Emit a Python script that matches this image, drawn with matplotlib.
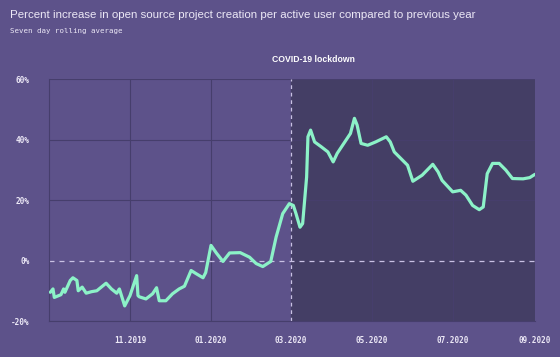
import matplotlib.pyplot as plt
import pandas as pd

# cores
bg = '#5d528a'
shade = '#443e65'
mint = '#8cf2c8'
txt = '#ece8f6'
grid_dark = '#463e6c'

# dados
dates = ['2019-09-02', '2019-09-04', '2019-09-05', '2019-09-10', '2019-09-12',
         '2019-09-13', '2019-09-17', '2019-09-19', '2019-09-22', '2019-09-23',
         '2019-09-26', '2019-09-29', '2019-10-03', '2019-10-07', '2019-10-14',
         '2019-10-18', '2019-10-22', '2019-10-24', '2019-10-28', '2019-11-01',
         '2019-11-06', '2019-11-07', '2019-11-08', '2019-11-13', '2019-11-18',
         '2019-11-21', '2019-11-23', '2019-11-28', '2019-12-03', '2019-12-08',
         '2019-12-12', '2019-12-17', '2019-12-21', '2019-12-26', '2019-12-28',
         '2020-01-01', '2020-01-05', '2020-01-10', '2020-01-15', '2020-01-23',
         '2020-01-30', '2020-02-04', '2020-02-09', '2020-02-15', '2020-02-19',
         '2020-02-24', '2020-02-29', '2020-03-03', '2020-03-05', '2020-03-08',
         '2020-03-10', '2020-03-13', '2020-03-14', '2020-03-16', '2020-03-19',
         '2020-03-24', '2020-03-29', '2020-04-02', '2020-04-05', '2020-04-10',
         '2020-04-15', '2020-04-18', '2020-04-20', '2020-04-23', '2020-04-28',
         '2020-05-04', '2020-05-12', '2020-05-15', '2020-05-18', '2020-05-23',
         '2020-05-28', '2020-06-01', '2020-06-08', '2020-06-16', '2020-06-20',
         '2020-06-23', '2020-07-01', '2020-07-07', '2020-07-11', '2020-07-16',
         '2020-07-21', '2020-07-24', '2020-07-27', '2020-07-31', '2020-08-05',
         '2020-08-10', '2020-08-15', '2020-08-23', '2020-08-28', '2020-09-01']
values = [-10.5, -9.4, -12.2, -11.3, -9.4,
          -10.5, -6.6, -5.7, -6.6, -10.0,
          -8.8, -10.8, -10.3, -10.0, -7.5,
          -9.4, -10.8, -9.4, -15.0, -11.6,
          -5.0, -11.6, -12.0, -12.7, -11.0,
          -9.0, -13.3, -13.3, -11.0, -9.4,
          -8.5, -3.3, -4.4, -5.7, -4.0,
          5.0, 2.5, -0.3, 2.5, 2.6,
          1.1, -1.0, -2.0, -0.3, 7.7,
          15.5, 18.8, 18.2, 15.5, 11.0,
          12.2, 27.6, 40.9, 43.1, 39.2,
          37.6, 35.9, 32.6, 35.4, 38.7,
          42.0, 47.0, 44.8, 38.7, 38.1,
          39.2, 40.9, 39.2, 35.9, 33.7,
          31.5, 26.2, 28.2, 31.8, 29.3,
          26.5, 22.7, 23.2, 21.6, 18.2,
          16.8, 17.7, 28.7, 32.1, 32.1,
          29.9, 27.1, 27.0, 27.4, 28.5]

tick_dates = ['2019-11-01', '2020-01-01', '2020-03-01', '2020-05-01', '2020-07-01', '2020-09-01']
tick_labels = ['11.2019', '01.2020', '03.2020', '05.2020', '07.2020', '09.2020']
y_ticks = [-20, 0, 20, 40, 60]
lockdown_start = '2020-03-01'
lockdown_end = '2020-09-01'

x = pd.to_datetime(dates)
xt = pd.to_datetime(tick_dates)

fig = plt.figure(facecolor=bg)
fig.set_size_inches(5.6, 3.57)
ax = fig.add_axes([0.0875, 0.1008, 0.8679, 0.6779])
ax.set_facecolor(bg)

ax.axvspan(pd.Timestamp(lockdown_start), pd.Timestamp(lockdown_end), color=shade, zorder=0)

# grade
for t in xt:
    if t == pd.Timestamp(lockdown_start):
        ax.axvline(t, color='#c9c1e3', lw=0.9, ls=(0, (3, 3)), zorder=2)
    else:
        ax.axvline(t, color=grid_dark, lw=0.8, zorder=1)
for v in y_ticks:
    if v == 0:
        ax.axhline(v, color='#c9c1e3', lw=0.9, ls=(0, (4, 4)), zorder=2)
    else:
        ax.axhline(v, color=grid_dark, lw=0.8, zorder=1)

ax.plot(x, values, color=mint, lw=2.3, solid_joinstyle='round', solid_capstyle='round', zorder=3)

ax.set_xlim(pd.Timestamp('2019-09-01'), pd.Timestamp('2020-09-01'))
ax.set_ylim(-20, 60)
ax.set_xticks(xt)
ax.set_xticklabels(tick_labels, family='DejaVu Sans Mono', fontsize=5.5, color=txt, fontweight='bold')
ax.set_yticks(y_ticks)
ax.set_yticklabels([f'{v}%' for v in y_ticks], family='DejaVu Sans Mono', fontsize=5.6, color=txt, fontweight='bold')
ax.tick_params(axis='x', length=0, pad=11)
ax.tick_params(axis='y', length=0, pad=14)
for s in ax.spines.values():
    s.set_visible(False)
ax.spines['left'].set_visible(True)
ax.spines['left'].set_color(grid_dark)
ax.spines['bottom'].set_visible(True)
ax.spines['bottom'].set_color(grid_dark)

# textos
fig.text(10 / 560, 1 - 15 / 357, 'Percent increase in open source project creation per active user compared to previous year',
         family='Liberation Sans', fontsize=8.25, color=txt, va='center', ha='left')
fig.text(10 / 560, 1 - 31 / 357, 'Seven day rolling average', family='DejaVu Sans Mono', fontsize=5.3,
         color=txt, va='center', ha='left')
fig.text(272 / 560, 1 - 59 / 357, 'COVID-19 lockdown', family='Liberation Sans', fontsize=6.2,
         color='white', fontweight='bold', va='center', ha='left')

fig.savefig('out.png', dpi=100, facecolor=bg)
